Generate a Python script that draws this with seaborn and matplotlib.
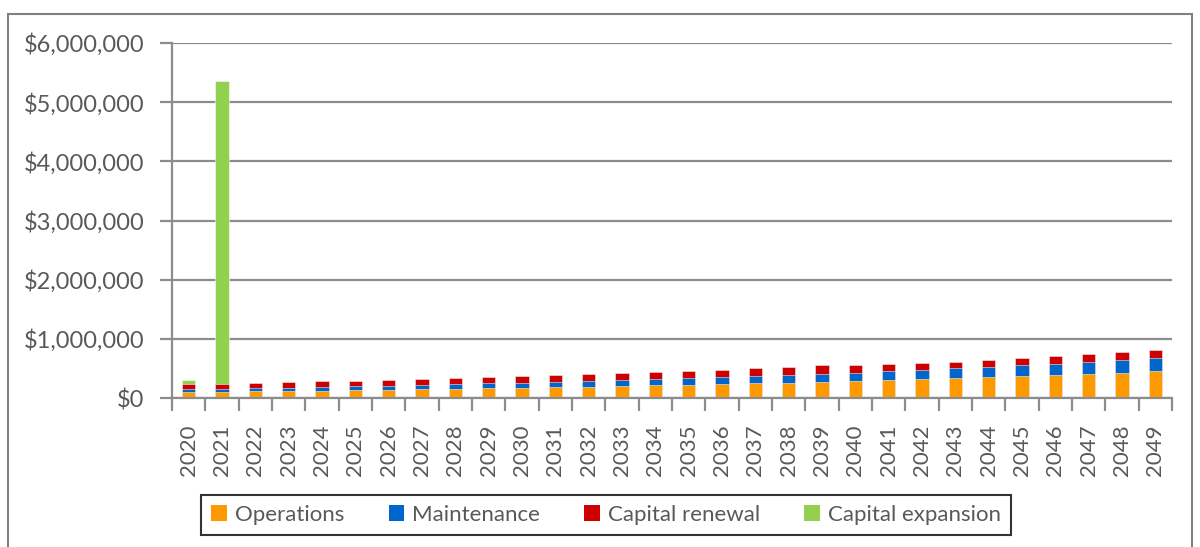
import numpy as np
import pandas as pd
import matplotlib
matplotlib.use("Agg")
import matplotlib.pyplot as plt
from matplotlib.patches import Rectangle, Patch
from matplotlib.ticker import FuncFormatter, FixedLocator
import seaborn as sns

years = list(range(2020, 2050))
operations = [107000, 108000, 119000, 125000, 125000, 130000, 142000, 147000, 153000, 164000,
              170000, 181000, 187000, 204000, 215000, 221000, 238000, 249000, 260000, 277000,
              289000, 306000, 323000, 335000, 357000, 374000, 391000, 413000, 430000, 453000]
maintenance = [46000, 50000, 51000, 51000, 62000, 68000, 68000, 74000, 79000, 85000,
               85000, 96000, 96000, 96000, 102000, 113000, 113000, 119000, 124000, 136000,
               136000, 147000, 153000, 164000, 164000, 181000, 187000, 193000, 204000, 215000]
capital_renewal = [80000, 80000, 90000, 96000, 96000, 96000, 96000, 102000, 108000, 108000,
                   113000, 113000, 124000, 124000, 124000, 124000, 130000, 136000, 141000, 140000,
                   130000, 130000, 119000, 113000, 119000, 113000, 124000, 136000, 136000, 147000]
capital_expansion = [73000, 5120000] + [0] * 28

series = ["Operations", "Maintenance", "Capital renewal", "Capital expansion"]
colors = ["#FF9900", "#0066CC", "#CC0000", "#92D050"]

df = pd.DataFrame({
    "year": [str(y) for y in years],
    "Operations": operations,
    "Maintenance": maintenance,
    "Capital renewal": capital_renewal,
    "Capital expansion": capital_expansion,
})
# cumulative heights for stacking
cum = df[series].cumsum(axis=1)

sns.set_style("white")
plt.rcParams["font.family"] = ["Lato", "DejaVu Sans"]
txt = "#595959"
grid_c = "#8C8C8C"

fig = plt.figure(figsize=(12, 5.47), dpi=100)
ax = fig.add_axes([172 / 1200, 1 - 398 / 547, 1000 / 1200, 355 / 547])

# draw tallest stack first so the lower segments sit on top
for name, col in reversed(list(zip(series, colors))):
    sns.barplot(x=df["year"], y=cum[name], color=col, width=0.4, ax=ax,
                saturation=1, edgecolor=(1, 1, 1, 0.6), linewidth=0.6)

ax.set_ylim(0, 6000000)
ax.set_xlim(-0.5, len(years) - 0.5)
ax.set_yticks(np.arange(0, 6000001, 1000000))
ax.yaxis.set_major_formatter(FuncFormatter(lambda v, p: "${:,.0f}".format(v)))
ax.grid(axis="y", color=grid_c, linewidth=1.6)
ax.set_axisbelow(True)
ax.set_xlabel("")
ax.set_ylabel("")

for s in ["top", "right"]:
    ax.spines[s].set_visible(False)
for s in ["left", "bottom"]:
    ax.spines[s].set_color(grid_c)
    ax.spines[s].set_linewidth(1.6)

ax.tick_params(axis="y", which="major", length=9, width=1.6, color=grid_c,
               labelsize=17, labelcolor=txt, pad=11, left=True)
ax.tick_params(axis="x", which="major", length=0, labelsize=16, labelcolor=txt,
               labelrotation=90, pad=19)
ax.xaxis.set_minor_locator(FixedLocator(np.arange(-0.5, len(years), 1.0)))
ax.tick_params(axis="x", which="minor", length=9, width=1.6, color=grid_c, bottom=True)

# outer chart border
fig.patches.append(Rectangle((8 / 1200, -0.01), 1184 / 1200, 1 - 14 / 547 + 0.01,
                             transform=fig.transFigure, fill=False,
                             edgecolor="#808080", linewidth=1.5))

handles = [Patch(facecolor=c, edgecolor="none") for c in colors]
leg = fig.legend(handles, series, loc="center", bbox_to_anchor=(606 / 1200, 1 - 515 / 547),
                 ncol=4, fontsize=16, frameon=True, fancybox=False,
                 handlelength=0.7, handleheight=0.7, handletextpad=0.35,
                 columnspacing=2.0, borderpad=0.45, labelcolor=txt)
leg.get_frame().set_edgecolor("black")
leg.get_frame().set_linewidth(1.5)

fig.savefig("out.png", dpi=100)
